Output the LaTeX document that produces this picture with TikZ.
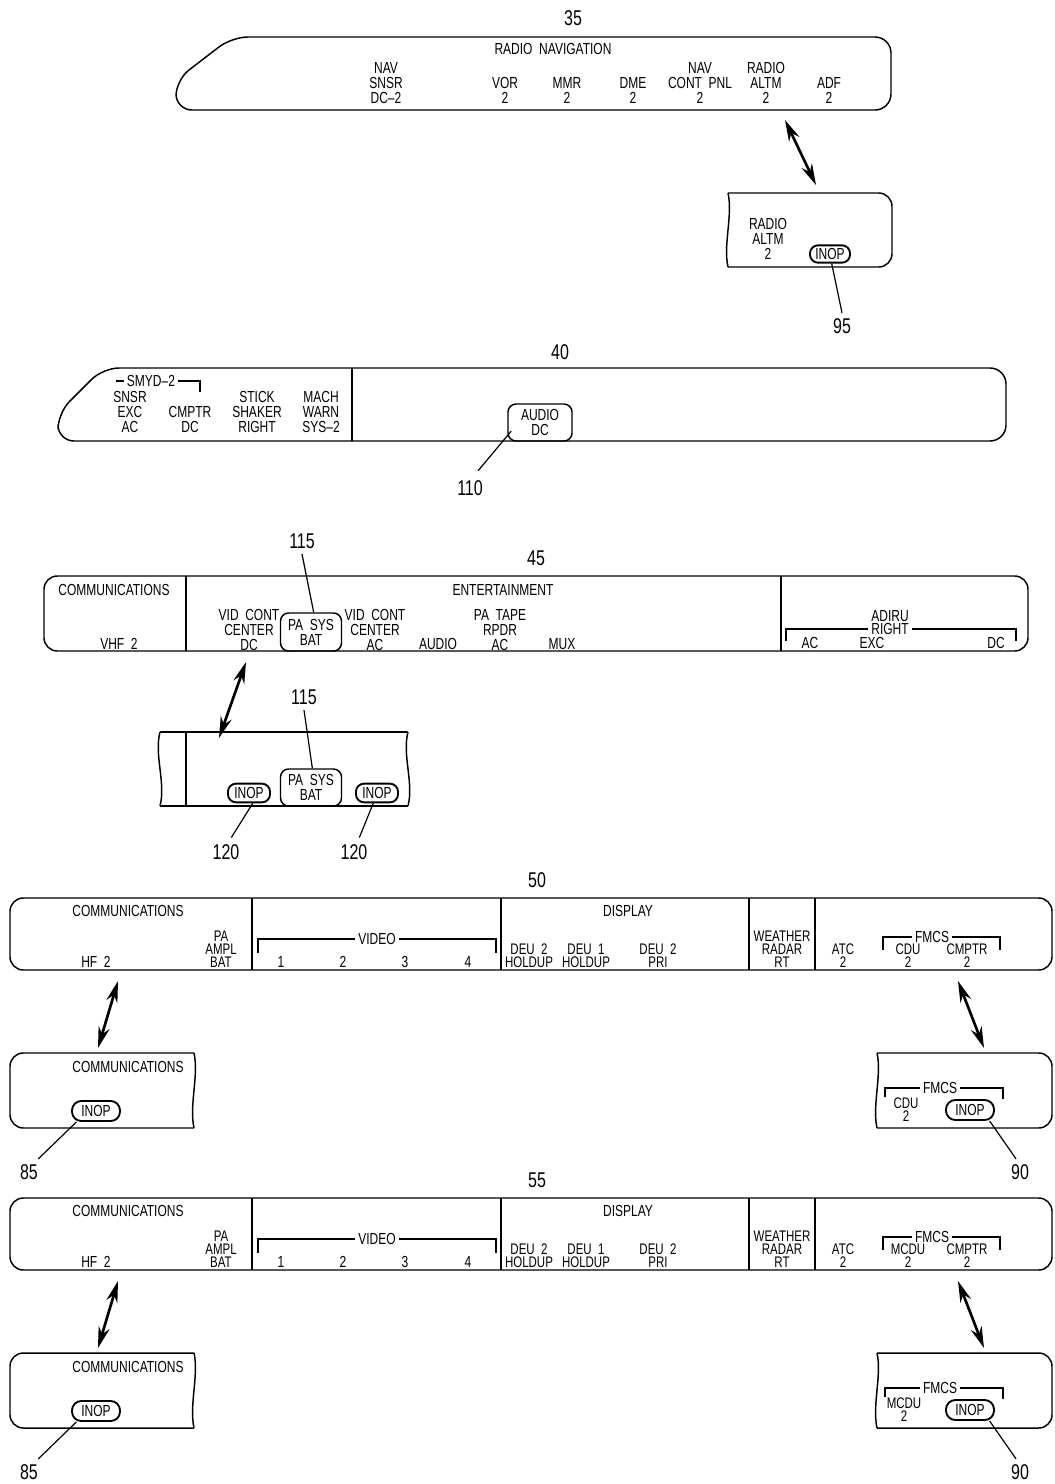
\documentclass[tikz,border=0pt]{standalone}
\usepackage{fontspec}
\setmainfont{Liberation Sans}[FakeStretch=0.75]
\usetikzlibrary{arrows.meta}
\newcommand{\fmcspanel}[5]{%
\begin{scope}[shift={(0,#2)}]
\node[num] (n#1) at (537,880) {#4};
\draw[outline, rounded corners=10pt] (10,898) rectangle (1052,970);
\foreach \xx in {252,501,749,815} \draw[outline] (\xx,898) -- (\xx,970);
\node[lbl] (comm#1) at (128,911) {COMMUNICATIONS};
\node[lbl] (hf#1) at (96,962) {HF~~2};
\node[lblt] (pa#1) at (221,949) {PA\\AMPL\\BAT};
\node[lbl, inner xsep=2pt] (video#1) at (377,939) {VIDEO};
\draw[thin] (258,953) -- (258,939) -- (video#1.west);
\draw[thin] (video#1.east) -- (496,939) -- (496,953);
\node[lbl] (va#1) at (281,962) {1};
\node[lbl] (vb#1) at (343,962) {2};
\node[lbl] (vc#1) at (405,962) {3};
\node[lbl] (vd#1) at (468,962) {4};
\node[lbl] (disp#1) at (628,911) {DISPLAY};
\node[lblt] (deua#1) at (529,955.5) {DEU~~2\\HOLDUP};
\node[lblt] (deub#1) at (586,955.5) {DEU~~1\\HOLDUP};
\node[lblt] (deuc#1) at (658,955.5) {DEU~~2\\PRI};
\node[lblt] (wx#1) at (782,949) {WEATHER\\RADAR\\RT};
\node[lblt] (atc#1) at (843,955.5) {ATC\\2};
\node[lbl, inner xsep=2pt] (fmcs#1) at (932,937) {FMCS};
\draw[thin] (883,950) -- (883,937) -- (fmcs#1.west);
\draw[thin] (fmcs#1.east) -- (1000,937) -- (1000,950);
\node[lblt] (cdu#1) at (908,955.5) {#3\\2};
\node[lblt] (cmptr#1) at (967,955.5) {CMPTR\\2};
\coordinate (alt#1) at (118,981);
\coordinate (alb#1) at (98,1048);
\draw[dblarrow] (alt#1) -- (alb#1);
\coordinate (art#1) at (958,981);
\coordinate (arb#1) at (984,1048);
\draw[dblarrow] (art#1) -- (arb#1);
% left callout
\draw[outline, rounded corners=10pt] (194,1053) -- (10,1053) -- (10,1128) -- (194,1128);
\draw[outline] (194,1128) .. controls (189,1105) and (199,1075) .. (194,1053);
\node[lbl] (commc#1) at (128,1067) {COMMUNICATIONS};
\node[inopbig] (inopl#1) at (96,1111) {INOP};
\node[num] (nl#1) at (29,1172) {85};
\draw[leader] ([xshift=4pt]inopl#1.south west) -- ([shift={(7pt,4pt)}]nl#1.north);
% right callout
\draw[outline, rounded corners=10pt] (877,1053) -- (1052,1053) -- (1052,1128) -- (877,1128);
\draw[outline] (877,1128) .. controls (872,1105) and (882,1075) .. (877,1053);
\node[lbl, inner xsep=2pt] (fmcsc#1) at (940,1088) {FMCS};
\draw[thin] (885,1097) -- (885,1088) -- (fmcsc#1.west);
\draw[thin] (fmcsc#1.east) -- (1003,1088) -- (1003,1099);
\node[lblt] (cduc#1) at (#5,1110) {#3\\2};
\node[inopbig] (inopr#1) at (970,1110) {INOP};
\node[num] (nr#1) at (1020,1172) {90};
\draw[leader] ([xshift=-4pt]inopr#1.south east) -- ([shift={(-3pt,4pt)}]nr#1.north);
\end{scope}}
\begin{document}
\begin{tikzpicture}[x=0.75pt,y=-0.75pt,
  outline/.style={line width=1.1pt, line join=round},
  thin/.style={line width=0.8pt},
  lbl/.style={font=\fontsize{12}{11.25}\selectfont, inner sep=0pt, align=center},
  lblt/.style={font=\fontsize{11.5}{9.75}\selectfont, inner sep=0pt, align=center},
  num/.style={font=\fontsize{16}{17}\selectfont, inner sep=0pt},
  inop/.style={draw, line width=1.4pt, rounded corners=6pt, font=\fontsize{12}{12}\selectfont, inner xsep=1pt, inner ysep=0pt, minimum width=30pt, minimum height=13pt},
  inopbig/.style={inop, rounded corners=7pt, minimum width=36pt, minimum height=15pt},
  tab/.style={draw, line width=1.1pt, rounded corners=6pt, inner sep=0pt, align=center, font=\fontsize{12}{11.25}\selectfont},
  dblarrow/.style={{Stealth[length=16pt,width=8.5pt]}-{Stealth[length=16pt,width=8.5pt]}, line width=2pt},
  leader/.style={line width=0.9pt}]
\useasboundingbox (0,0) rectangle (1054,1484);

% ---------------- panel 35
\node[num] (n35) at (573,18) {35};
\draw[outline, rounded corners=12pt] (232,37) -- (891,37) -- (891,110) -- (176,110) -- (176,80) -- cycle;
\node[lbl] (radnav) at (553,49) {RADIO~~NAVIGATION};
\node[lbl] (navsnsr) at (386,83) {NAV\\SNSR\\DC--2};
\node[lbl] (vor) at (505,90.5) {VOR\\2};
\node[lbl] (mmr) at (567,90.5) {MMR\\2};
\node[lbl] (dme) at (633,90.5) {DME\\2};
\node[lbl] (navcont) at (700,83) {NAV\\CONT~~PNL\\2};
\node[lbl] (radalt) at (766,83) {RADIO\\ALTM\\2};
\node[lbl] (adf) at (829,90.5) {ADF\\2};
\coordinate (a35t) at (785,120);
\coordinate (a35b) at (816,185);
\draw[dblarrow] (a35t) -- (a35b);
% callout 95
\draw[outline, rounded corners=10pt] (728,193) -- (892,193) -- (892,267) -- (728,267);
\draw[outline] (728,267) .. controls (723,245) and (733,215) .. (728,193);
\node[lbl] (ra2) at (768,239) {RADIO\\ALTM\\2};
\node[inop] (inop95) at (830,254) {INOP};
\node[num] (n95) at (842,326) {95};
\draw[leader] (inop95.-80) -- ([yshift=4pt]n95.north);

% ---------------- panel 40
\node[num] (n40) at (560,352) {40};
\draw[outline, rounded corners=12pt] (103,368) -- (1006,368) -- (1006,441) -- (58,441) -- (58,413) -- cycle;
\draw[outline] (352,368) -- (352,441);
\node[lbl, inner xsep=2pt] (smyd) at (151,381) {SMYD--2};
\draw[thin] (116,381) -- (smyd.west);
\draw[thin] (smyd.east) -- (200,381) -- (200,392);
\node[lbl] (snsr) at (130,412) {SNSR\\EXC\\AC};
\node[lbl] (cmptr40) at (190,419.5) {CMPTR\\DC};
\node[lbl] (stick) at (257,412) {STICK\\SHAKER\\RIGHT};
\node[lbl] (mach) at (321,412) {MACH\\WARN\\SYS--2};
\node[tab, minimum width=48pt, minimum height=27.75pt] (audio) at (540,422.5) {AUDIO\\DC};
\node[num] (n110) at (470,488) {110};
\draw[leader] ([shift={(3pt,8pt)}]audio.south west) -- ([shift={(6pt,7pt)}]n110.north);

% ---------------- panel 45
\node[num] (n45) at (536,558) {45};
\node[num] (n115a) at (302,541) {115};
\draw[outline, rounded corners=10pt] (44,576) rectangle (1028,651);
\draw[outline] (186,576) -- (186,651);
\draw[outline] (781,576) -- (781,651);
\node[lbl] (comm45) at (114,590) {COMMUNICATIONS};
\node[lbl] (vhf) at (119,644) {VHF~~2};
\node[lbl] (ent) at (503,590) {ENTERTAINMENT};
\node[lbl] (vidc1) at (249,630) {VID~~CONT\\CENTER\\DC};
\node[tab, minimum width=45.75pt, minimum height=28.5pt] (pasys1) at (311,632) {PA~~SYS\\BAT};
\draw[leader] ([yshift=-4pt]n115a.south) -- ([xshift=2pt]pasys1.north);
\node[lbl] (vidc2) at (375,630) {VID~~CONT\\CENTER\\AC};
\node[lbl] (aud45) at (438,644) {AUDIO};
\node[lbl] (patape) at (500,630) {PA~~TAPE\\RPDR\\AC};
\node[lbl] (mux) at (562,644) {MUX};
\node[lbl] (adiru) at (890,616) {ADIRU};
\node[lbl, inner xsep=2pt] (rightlbl) at (890,629) {RIGHT};
\draw[thin] (786,641) -- (786,629) -- (rightlbl.west);
\draw[thin] (rightlbl.east) -- (1016,629) -- (1016,641);
\node[lbl] (adac) at (810,643) {AC};
\node[lbl] (adexc) at (872,643) {EXC};
\node[lbl] (addc) at (996,643) {DC};
\coordinate (a45t) at (246,662);
\coordinate (a45b) at (219,738);
\draw[dblarrow] (a45t) -- (a45b);
% callout 115/120
\draw[outline] (160,732) -- (408,732);
\draw[outline] (160,806) -- (408,806);
\draw[outline] (160,732) .. controls (154,755) and (166,783) .. (160,806);
\draw[outline] (408,732) .. controls (402,755) and (414,783) .. (408,806);
\draw[outline] (186,732) -- (186,806);
\node[num] (n115b) at (304,697) {115};
\node[tab, minimum width=45.75pt, minimum height=27.75pt] (pasys2) at (311,787.5) {PA~~SYS\\BAT};
\draw[leader] ([yshift=-4pt]n115b.south) -- ([xshift=1pt]pasys2.north);
\node[inop, minimum width=31.5pt, minimum height=14pt] (inopa) at (249,793) {INOP};
\node[inop, minimum width=31.5pt, minimum height=14pt] (inopb) at (377,793) {INOP};
\node[num] (n120a) at (226,852) {120};
\node[num] (n120b) at (354,852) {120};
\draw[leader] (inopa.-70) -- ([shift={(4pt,5pt)}]n120a.north);
\draw[leader] (inopb.-110) -- ([shift={(4pt,5pt)}]n120b.north);

% ---------------- panels 50 and 55
\fmcspanel{p50}{0}{CDU}{50}{906}
\fmcspanel{p55}{300}{MCDU}{55}{904}
\end{tikzpicture}
\end{document}
